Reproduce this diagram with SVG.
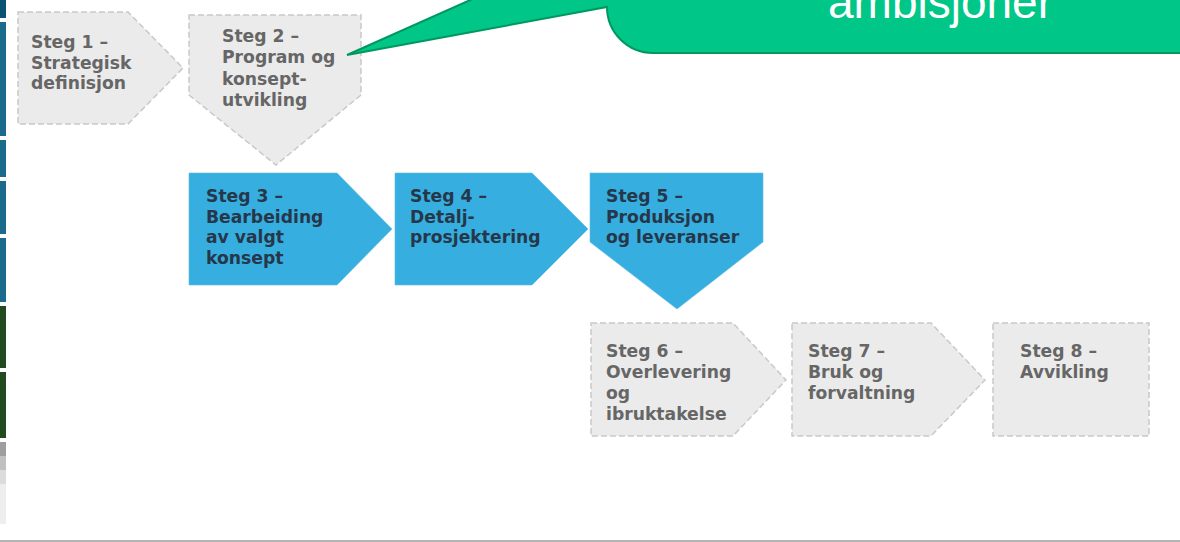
<svg xmlns="http://www.w3.org/2000/svg" width="1180" height="542" viewBox="0 0 1180 542">
<style>
.gray{fill:#ebebeb;stroke:#c9c9c9;stroke-width:1.5;stroke-dasharray:6 3}
.blue{fill:#36aee0;stroke:#5dbde6;stroke-width:0.6}
.t{font-family:"DejaVu Sans",Verdana,sans-serif;font-weight:bold;font-size:17.2px}
.tg{fill:#666666}
.tb{fill:#26374a}
.callout{fill:#00c688;stroke:#00985f;stroke-width:2;stroke-linejoin:miter}
.ct{font-family:"Liberation Sans",Arial,sans-serif;font-size:46px;fill:#ffffff}
</style>
<rect x="0" y="0" width="1180" height="542" fill="#ffffff"/>
<g id="edge-strip">
<rect x="0" y="0" width="6" height="18" fill="#0b5372"/>
<rect x="0" y="22" width="6" height="114" fill="#1b6b8c"/>
<rect x="0" y="140" width="6" height="37" fill="#1b6b8c"/>
<rect x="0" y="181" width="6" height="53" fill="#1b6b8c"/>
<rect x="0" y="238" width="6" height="64" fill="#1b6b8c"/>
<rect x="0" y="306" width="6" height="62" fill="#214a1e"/>
<rect x="0" y="372" width="6" height="66" fill="#214a1e"/>
<rect x="0" y="442" width="6" height="14" fill="#9e9e9e"/>
<rect x="0" y="456" width="6" height="14" fill="#c0c0c0"/>
<rect x="0" y="470" width="6" height="14" fill="#dcdcdc"/>
<rect x="0" y="484" width="6" height="40" fill="#eeeeee"/>
<line x1="0" y1="541" x2="1180" y2="541" stroke="#9a9a9a" stroke-width="1.5"/>
</g>
<g id="connectors"></g>
<g id="steg1">
<path class="gray" d="M18,12 L128,12 L183,68 L128,124 L18,124 Z"/>
<text class="t tg"><tspan x="31" y="48">Steg 1 –</tspan><tspan x="31" y="68.5">Strategisk</tspan><tspan x="31" y="89">definisjon</tspan></text>
</g>
<g id="steg2">
<path class="gray" d="M189,15 L361,15 L361,95 L276,165 L189,95 Z"/>
<text class="t tg"><tspan x="222" y="42">Steg 2 –</tspan><tspan x="222" y="63">Program og</tspan><tspan x="222" y="84.5">konsept-</tspan><tspan x="222" y="106">utvikling</tspan></text>
</g>
<g id="steg3">
<path class="blue" d="M189,173 L337,173 L392,229 L337,285 L189,285 Z"/>
<text class="t tb"><tspan x="206" y="202">Steg 3 –</tspan><tspan x="206" y="222.5">Bearbeiding</tspan><tspan x="206" y="243">av valgt</tspan><tspan x="206" y="264">konsept</tspan></text>
</g>
<g id="steg4">
<path class="blue" d="M395,173 L532,173 L588,229 L532,285 L395,285 Z"/>
<text class="t tb"><tspan x="410" y="202">Steg 4 –</tspan><tspan x="410" y="222.5">Detalj-</tspan><tspan x="410" y="243">prosjektering</tspan></text>
</g>
<g id="steg5">
<path class="blue" d="M590,173 L763,173 L763,242 L677,309 L590,242 Z"/>
<text class="t tb"><tspan x="606" y="202">Steg 5 –</tspan><tspan x="606" y="222.5">Produksjon</tspan><tspan x="606" y="243">og leveranser</tspan></text>
</g>
<g id="steg6">
<path class="gray" d="M591,323 L733,323 L786,380 L733,436 L591,436 Z"/>
<text class="t tg"><tspan x="606" y="357">Steg 6 –</tspan><tspan x="606" y="378">Overlevering</tspan><tspan x="606" y="399">og</tspan><tspan x="606" y="420">ibruktakelse</tspan></text>
</g>
<g id="steg7">
<path class="gray" d="M792,323 L931,323 L985,380 L931,436 L792,436 Z"/>
<text class="t tg"><tspan x="808" y="357">Steg 7 –</tspan><tspan x="808" y="378">Bruk og</tspan><tspan x="808" y="399">forvaltning</tspan></text>
</g>
<g id="steg8">
<rect class="gray" x="993" y="323" width="156" height="113"/>
<text class="t tg"><tspan x="1020" y="357">Steg 8 –</tspan><tspan x="1020" y="378">Avvikling</tspan></text>
</g>
<g id="callout">
<path class="callout" d="M477,-3 L347,55 L607,7 A46,46 0 0 0 653,53 L1190,53 L1190,-3 Z"/>
<text class="ct" x="828" y="18">ambisjoner</text>
</g>
</svg>
